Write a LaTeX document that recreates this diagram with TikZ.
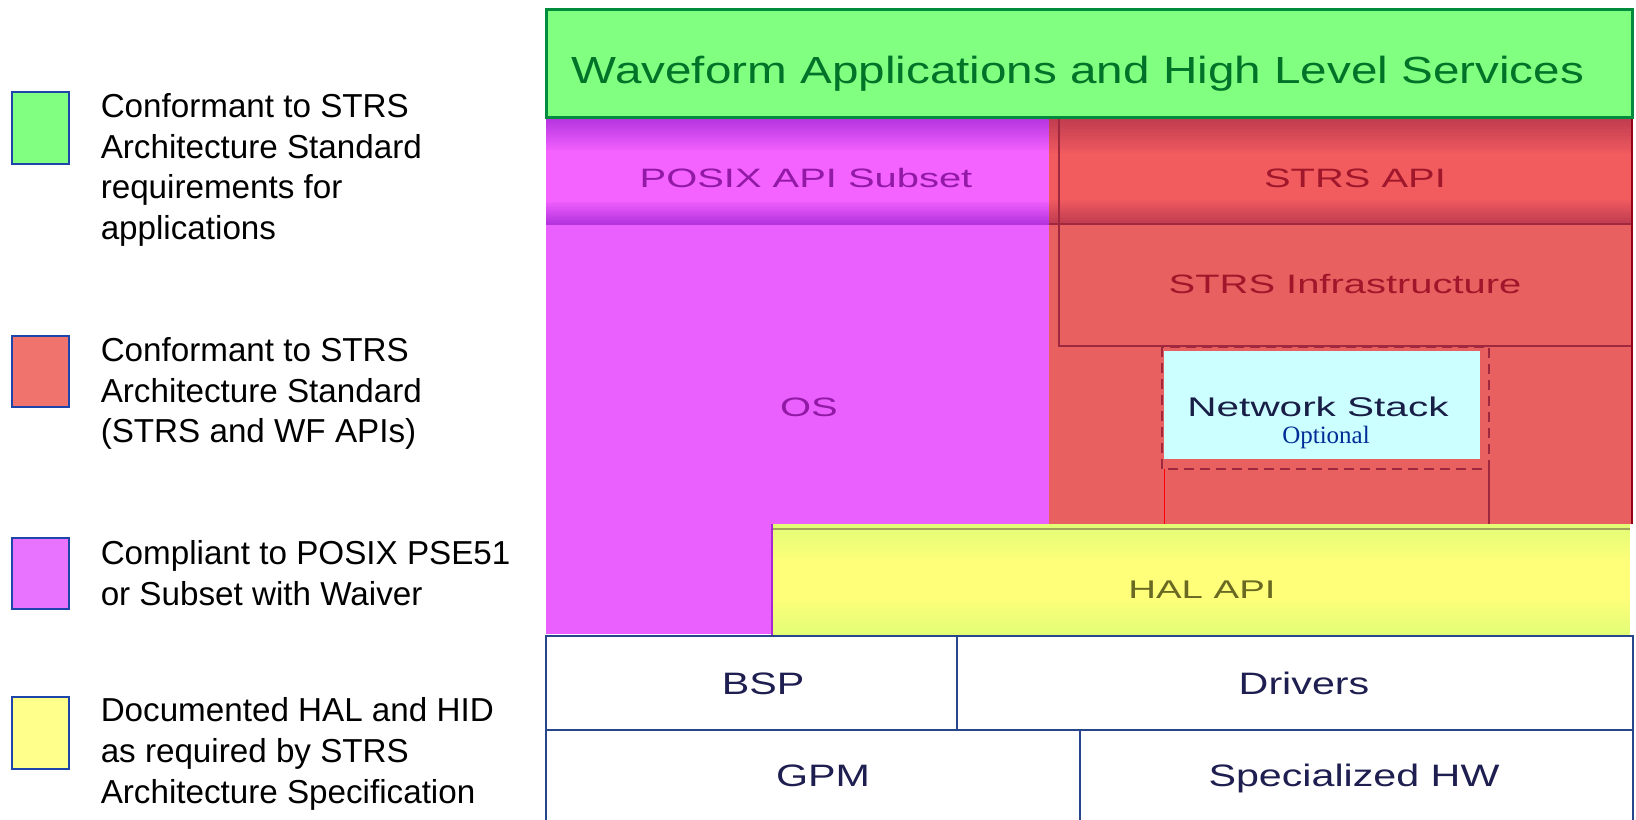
\documentclass[tikz,border=0pt]{standalone}
\usepackage{fontspec}
\setmainfont{Liberation Sans}
\newfontfamily\wavefont[FakeStretch=1.26]{Liberation Sans}
\newfontfamily\layerfont[FakeStretch=1.5]{Liberation Sans}
\newfontfamily\hwfont[FakeStretch=1.33]{Liberation Sans}
\newfontfamily\optfont{Liberation Serif}

\definecolor{appgreen}{RGB}{128,255,128}
\definecolor{appline}{RGB}{0,140,60}
\definecolor{apptext}{RGB}{0,115,40}
\definecolor{posixpink}{RGB}{234,96,255}
\definecolor{posixmid}{RGB}{244,98,255}
\definecolor{posixdark}{RGB}{180,52,222}
\definecolor{posixtext}{RGB}{145,25,165}
\definecolor{strsred}{RGB}{233,96,96}
\definecolor{strsmid}{RGB}{242,92,95}
\definecolor{strsdark}{RGB}{192,60,80}
\definecolor{strsline}{RGB}{160,40,62}
\definecolor{strstext}{RGB}{160,22,42}
\definecolor{netcyan}{RGB}{204,255,255}
\definecolor{nettext}{RGB}{25,30,70}
\definecolor{optblue}{RGB}{0,45,150}
\definecolor{halyellow}{RGB}{255,255,122}
\definecolor{halgreen}{RGB}{226,252,118}
\definecolor{haltext}{RGB}{105,105,35}
\definecolor{hwline}{RGB}{40,70,140}
\definecolor{hwtext}{RGB}{30,30,80}
\definecolor{keyline}{RGB}{30,70,170}
\definecolor{keyred}{RGB}{240,115,110}
\definecolor{keypink}{RGB}{232,115,255}
\definecolor{keyyellow}{RGB}{255,255,140}

\tikzset{every picture/.style={line width=0.75pt}}
\tikzset{
  keybox/.style={draw=keyline,line width=1pt},
  keytext/.style={anchor=north west,inner sep=0pt,align=left,font=\fontsize{16.6}{20.3}\selectfont},
  layertext/.style={anchor=base,inner sep=0pt,font=\layerfont\fontsize{13.3}{15}\selectfont},
  hwbox/.style={draw=hwline,fill=white,line width=1.2pt},
  hwtext/.style={anchor=base,inner sep=0pt,text=hwtext,font=\hwfont\fontsize{15.5}{18}\selectfont},
}

\begin{document}
\begin{tikzpicture}[x=0.5pt,y=0.5pt,yscale=-1,xscale=1]
\useasboundingbox (0,0) rectangle (1636,819);

%Shape: Rectangle [posix column]
\fill [posixpink] (546,118) rectangle (1049,634) ;
\fill [posixmid] (546,118) rectangle (1049,224) ;
\foreach \k [evaluate=\k as \p using int(100-\k*6)] in {0,...,15} {
  \fill [posixdark!\p!posixmid] (546,{118+\k*2}) rectangle (1049,{120.2+\k*2}) ;
  \fill [posixdark!\p!posixmid] (546,{224-\k*1.4}) rectangle (1049,{222.5-\k*1.4}) ;
}
\draw [draw=posixdark] (546,224) -- (1049,224) ;
%Shape: Rectangle [strs column]
\fill [strsred] (1049,118) rectangle (1633,524) ;
\fill [strsmid] (1049,118) rectangle (1633,224) ;
\foreach \k [evaluate=\k as \p using int(100-\k*6)] in {0,...,15} {
  \fill [strsdark!\p!strsmid] (1049,{118+\k*2.2}) rectangle (1633,{120.4+\k*2.2}) ;
  \fill [strsdark!\p!strsmid] (1049,{224-\k*1.5}) rectangle (1633,{222.4-\k*1.5}) ;
}
%Shape: Rectangle [waveform layer]
\draw [draw=appline,fill=appgreen,line width=1.5pt] (546,9) rectangle (1632,117) ;
%Straight Lines [strs boxes]
\draw [draw=strsline,line width=1pt] (1049,224) -- (1633,224) ;
\draw [draw=strsline,line width=1pt] (1059,119) -- (1059,346) -- (1633,346) ;
\draw [draw={rgb,255:red,150;green,0;blue,20},line width=1.2pt] (1632,119) -- (1632,524) ;
%Shape: Rectangle [network stack, dashed]
\draw [draw=strsline,line width=1.2pt,dash pattern=on 5pt off 3pt] (1162,347) rectangle (1489,469) ;
\draw [draw=strsline,line width=1pt] (1489,469) -- (1489,530) ;
\draw [draw=red,line width=0.4pt] (1164,469) -- (1164,524) ;
\fill [netcyan] (1164,351) rectangle (1480,459) ;
%Shape: Rectangle [hal layer]
\fill [halyellow] (772,524) rectangle (1630,636) ;
\foreach \k [evaluate=\k as \p using int(100-\k*8)] in {0,...,12} {
  \fill [halgreen!\p!halyellow] (772,{524+\k*3}) rectangle (1630,{527.2+\k*3}) ;
  \fill [halgreen!\p!halyellow] (772,{636-\k*3}) rectangle (1630,{632.8-\k*3}) ;
}
\draw [draw={rgb,255:red,160;green,165;blue,90},line width=1.2pt] (772,529) -- (1630,529) ;
\draw [draw={rgb,255:red,170;green,40;blue,210},line width=0.8pt] (772,524) -- (772,636) ;
%Shape: Rectangle [hardware boxes]
\draw [hwbox] (546,636) rectangle (957,730) ;
\draw [hwbox] (957,636) rectangle (1633,730) ;
\draw [hwbox] (546,730) rectangle (1080,822) ;
\draw [hwbox] (1080,730) rectangle (1633,822) ;

% Text Node
\node [anchor=base,inner sep=0pt,text=apptext,font=\wavefont\fontsize{18.9}{22}\selectfont] (wave) at (1078,83) {Waveform Applications and High Level Services};
% Text Node
\node [layertext,text=posixtext] (posixapi) at (806,187) {POSIX API Subset};
% Text Node
\node [layertext,text=strstext] (strsapi) at (1355,187) {STRS API};
% Text Node
\node [layertext,text=strstext] (infra) at (1345,293) {STRS Infrastructure};
% Text Node
\node [layertext,text=posixtext] (os) at (809,416) {OS};
% Text Node
\node [layertext,text=nettext,font=\layerfont\fontsize{13.5}{15}\selectfont] (netstack) at (1318,416) {Network Stack};
% Text Node
\node [anchor=base,inner sep=0pt,text=optblue,font=\optfont\fontsize{12.5}{14}\selectfont] (optional) at (1326,443) {Optional};
% Text Node
\node [layertext,text=haltext,font=\layerfont\fontsize{12.8}{15}\selectfont] (halapi) at (1202,598) {HAL API};
% Text Node
\node [hwtext] (bsp) at (763,694) {BSP};
% Text Node
\node [hwtext] (drivers) at (1304,694) {Drivers};
% Text Node
\node [hwtext] (gpm) at (823,786) {GPM};
% Text Node
\node [hwtext] (spechw) at (1354,786) {Specialized HW};

%Shape: Rectangle [key squares]
\draw [keybox,fill=appgreen] (12,92) rectangle (69,164) ;
\draw [keybox,fill=keyred] (12,336) rectangle (69,407) ;
\draw [keybox,fill=keypink] (12,538) rectangle (69,609) ;
\draw [keybox,fill=keyyellow] (12,697) rectangle (69,769) ;

% Text Node
\node [keytext] (keyapp) at (100,93) {Conformant to STRS\\Architecture Standard\\requirements for\\applications};
% Text Node
\node [keytext] (keystrs) at (100,337) {Conformant to STRS\\Architecture Standard\\(STRS and WF APIs)};
% Text Node
\node [keytext] (keyposix) at (100,540) {Compliant to POSIX PSE51\\or Subset with Waiver};
% Text Node
\node [keytext] (keyhal) at (100,697) {Documented HAL and HID\\as required by STRS\\Architecture Specification};

\end{tikzpicture}
\end{document}
